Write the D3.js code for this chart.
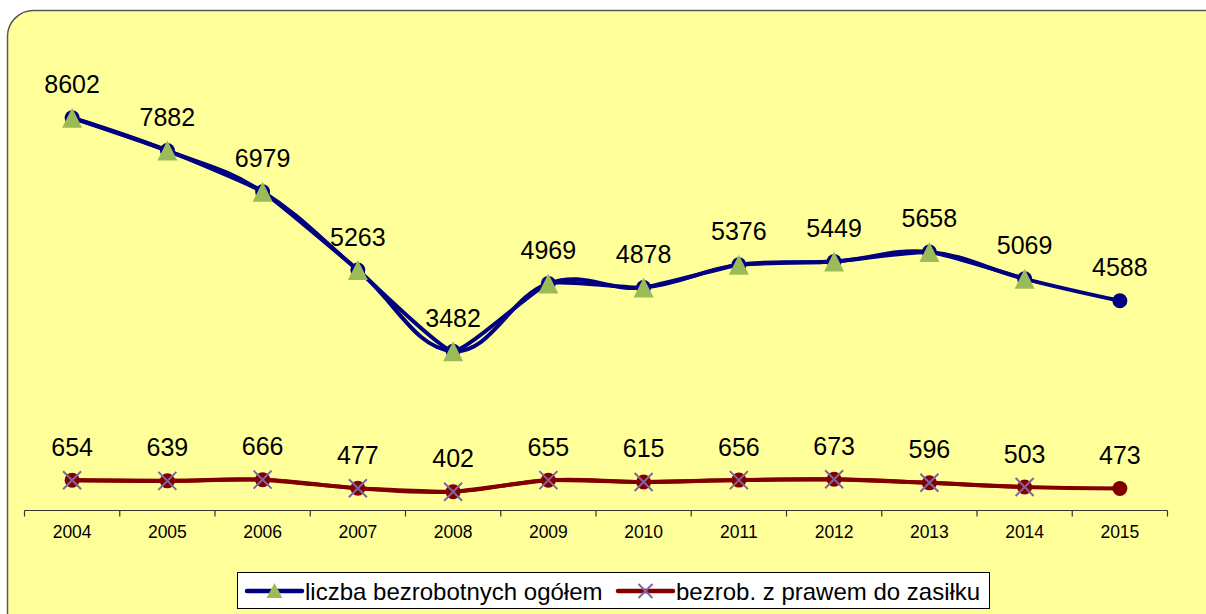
<!DOCTYPE html>
<html>
<head>
<meta charset="utf-8">
<script src="https://d3js.org/d3.v7.min.js"></script>
<style>
  body { margin: 0; background: #fff; }
  svg { display: block; font-family: "Liberation Sans", Arial, sans-serif; }
</style>
</head>
<body>
<svg width="1206" height="614"></svg>
<script>
var years = ["2004","2005","2006","2007","2008","2009","2010","2011","2012","2013","2014","2015"];
var ogolem = [8602, 7882, 6979, 5263, 3482, 4969, 4878, 5376, 5449, 5658, 5069, 4588];
var zasilek = [654, 639, 666, 477, 402, 655, 615, 656, 673, 596, 503, 473];
// the marker series (triangles / crosses) stop one year earlier
var markerYears = years.slice(0, 11);

var svg = d3.select("svg"),
    width = +svg.attr("width"),
    height = +svg.attr("height");

// chart area background
svg.append("rect")
    .attr("x", 7.5).attr("y", 10.5)
    .attr("width", 1230).attr("height", 640)
    .attr("rx", 26).attr("ry", 26)
    .style("fill", "#ffff99")
    .style("stroke", "#595959")
    .style("stroke-width", 1.5);

var x = d3.scaleBand().domain(years).range([24.5, 1167.5]).padding(0);
var y = d3.scaleLinear().domain([0, 10000]).range([510, 54]);
function cx(d) { return x(d) + x.bandwidth() / 2; }

// x axis
var axis = svg.append("g")
    .attr("transform", "translate(0,510.5)");
axis.append("line")
    .attr("x1", x.range()[0]).attr("x2", x.range()[1])
    .style("stroke", "#333").style("stroke-width", 1.2);
var edges = years.map(function (d) { return x(d); }).concat([x.range()[1]]);
axis.selectAll(".tick")
    .data(edges)
    .enter().append("line")
    .attr("x1", function (d) { return d; }).attr("x2", function (d) { return d; })
    .attr("y1", 0).attr("y2", 6)
    .style("stroke", "#333").style("stroke-width", 1.2);
svg.selectAll(".year")
    .data(years)
    .enter().append("text")
    .attr("class", "year")
    .attr("x", cx)
    .attr("y", 538)
    .attr("text-anchor", "middle")
    .style("font-size", "17.5px")
    .text(function (d) { return d; });

function drawSeries(values, color, marker, markerColor) {
    var pts = years.map(function (d, i) { return [cx(d), y(values[i])]; });
    // smooth line with round markers over all years
    svg.append("path")
        .attr("d", d3.line().curve(d3.curveCardinal.tension(-0.2))(pts))
        .style("fill", "none").style("stroke", color).style("stroke-width", 4);
    // second, slightly different smoothing for the marker series
    svg.append("path")
        .attr("d", d3.line().curve(d3.curveCardinal.tension(0.6))(pts.slice(0, markerYears.length)))
        .style("fill", "none").style("stroke", color).style("stroke-width", 4);
    svg.selectAll(null)
        .data(pts)
        .enter().append("circle")
        .attr("cx", function (d) { return d[0]; })
        .attr("cy", function (d) { return d[1]; })
        .attr("r", 7.5)
        .style("fill", color);
    var mk = pts.slice(0, markerYears.length);
    if (marker == "triangle") {
        svg.selectAll(null)
            .data(mk)
            .enter().append("path")
            .attr("transform", function (d) { return "translate(" + d[0] + "," + d[1] + ")"; })
            .attr("d", "M0,-10L10,10L-10,10Z")
            .style("fill", markerColor);
    } else {
        svg.selectAll(null)
            .data(mk)
            .enter().append("path")
            .attr("transform", function (d) { return "translate(" + d[0] + "," + d[1] + ")"; })
            .attr("d", "M-9,-9L9,9M-9,9L9,-9")
            .style("stroke", markerColor).style("stroke-width", 2);
    }
    svg.selectAll(null)
        .data(pts)
        .enter().append("text")
        .attr("x", function (d) { return d[0]; })
        .attr("y", function (d) { return d[1] - 24.5; })
        .attr("text-anchor", "middle")
        .style("font-size", "25px")
        .text(function (d, i) { return values[i]; });
}

drawSeries(ogolem, "#000080", "triangle", "#9bbb59");
drawSeries(zasilek, "#800000", "cross", "#8064a2");

// legend
var legend = svg.append("g");
legend.append("rect")
    .attr("x", 237.5).attr("y", 572.5)
    .attr("width", 752).attr("height", 36)
    .style("fill", "#fff").style("stroke", "#000").style("stroke-width", 1);

var legendItems = [
    { label: "liczba bezrobotnych ogółem", color: "#000080", marker: "triangle", mcolor: "#9bbb59", x: 247 },
    { label: "bezrob. z prawem do zasiłku", color: "#800000", marker: "cross", mcolor: "#8064a2", x: 618 }
];
var li = legend.selectAll(".item")
    .data(legendItems)
    .enter().append("g")
    .attr("class", "item")
    .attr("transform", function (d) { return "translate(" + d.x + ",591)"; });
li.append("line")
    .attr("x1", 0).attr("x2", 55)
    .style("stroke", function (d) { return d.color; })
    .style("stroke-width", 4.5)
    .style("stroke-linecap", "round");
li.append("path")
    .attr("transform", "translate(27.5,0)")
    .attr("d", function (d) {
        return d.marker == "triangle" ? "M0,-8L8,7L-8,7Z" : "M-7,-7L7,7M-7,7L7,-7";
    })
    .style("fill", function (d) { return d.marker == "triangle" ? d.mcolor : "none"; })
    .style("stroke", function (d) { return d.marker == "triangle" ? "none" : d.mcolor; })
    .style("stroke-width", 2);
li.append("text")
    .attr("x", 58)
    .attr("y", 8.5)
    .style("font-size", "24px")
    .text(function (d) { return d.label; });
</script>
</body>
</html>
